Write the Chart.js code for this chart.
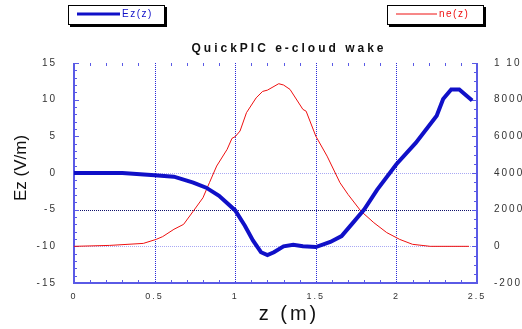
<!DOCTYPE html>
<html>
<head>
<meta charset="utf-8">
<script src="https://cdn.jsdelivr.net/npm/chart.js@4.4.0/dist/chart.umd.min.js"></script>
<style>
    html, body { margin: 0; padding: 0; background: #fff; }
    #wrap { position: relative; width: 522px; height: 329px; }
</style>
</head>
<body>
<div id="wrap"><canvas id="wake" width="522" height="329"></canvas></div>
<script>
// ─── DATA ────────────────────────────────────────────────────
const titleText  = 'QuickPIC e-cloud wake';
const legendEz   = 'Ez(z)';
const legendNe   = 'ne(z)';
const xTitle     = 'z (m)';
const yTitle     = 'Ez (V/m)';

// Ez(z) — thick blue, left axis
const ezZ      = [0, 0.3, 0.5, 0.62, 0.74, 0.82, 0.9, 1.0, 1.06, 1.11, 1.16, 1.2, 1.24, 1.3, 1.36, 1.42, 1.5, 1.59, 1.66, 1.73, 1.8, 1.88, 2.0, 2.12, 2.25, 2.29, 2.34, 2.39, 2.47];
const ezValues = [0, 0, -0.3, -0.5, -1.3, -2.0, -3.1, -5.1, -7.2, -9.2, -10.8, -11.2, -10.8, -10.0, -9.8, -10.0, -10.1, -9.4, -8.6, -6.8, -5.0, -2.3, 1.2, 4.1, 7.8, 10.1, 11.4, 11.4, 9.9];

// ne(z) — thin red, right axis
const neZ      = [0, 0.22, 0.43, 0.51, 0.55, 0.62, 0.68, 0.74, 0.8, 0.84, 0.885, 0.95, 0.98, 1.0, 1.03, 1.07, 1.13, 1.17, 1.2, 1.27, 1.3, 1.34, 1.42, 1.44, 1.5, 1.57, 1.65, 1.7, 1.78, 1.86, 1.94, 2.02, 2.1, 2.21, 2.45];
const neValues = [0, 50, 160, 380, 530, 930, 1200, 1920, 2650, 3470, 4380, 5290, 5890, 5980, 6290, 7290, 8100, 8450, 8520, 8870, 8800, 8560, 7470, 7370, 6010, 4920, 3470, 2830, 1920, 1290, 750, 380, 110, 0, 0];

const xTicks  = [0, 0.5, 1, 1.5, 2, 2.5];
const yTicks  = [15, 10, 5, 0, -5, -10, -15];
const y1Ticks = [10000, 8000, 6000, 4000, 2000, 0, -2000];

// ─── COLOURS ─────────────────────────────────────────────────
const BLUE   = '#1010c8';
const RED    = '#ee1010';
const AXIS   = '#5a5ae6';
const LABEL  = '#333';
const FONT   = '"Liberation Sans", Arial, sans-serif';

const toPoints = (xs, ys) => xs.map((x, i) => ({ x, y: ys[i] }));

// ─── FRAME PLUGIN (grid, axes, ticks, titles, legend) ───────
const framePlugin = {
    id: 'frame',
    beforeDraw(chart) {
        // the reference uses a wide, letter-spaced face for its tick labels
        chart.ctx.letterSpacing = '2px';
    },
    beforeDatasetsDraw(chart) {
        const { ctx, chartArea: { left, right, top, bottom } } = chart;
        const x  = chart.scales.x;
        const y  = chart.scales.y;
        const y1 = chart.scales.y1;
        ctx.save();

        // vertical dotted grid
        ctx.lineWidth = 1;
        ctx.setLineDash([1, 1]);
        ctx.strokeStyle = '#2a2ad8';
        [0.5, 1, 1.5, 2].forEach(v => {
            const px = Math.round(x.getPixelForValue(v)) + 0.5;
            ctx.beginPath(); ctx.moveTo(px, top); ctx.lineTo(px, bottom); ctx.stroke();
        });

        // horizontal dotted grid
        [[0, '#a8a8f4'], [-5, '#10106a'], [-10, '#a8a8f4']].forEach(([v, c]) => {
            const py = Math.round(y.getPixelForValue(v)) + 0.5;
            ctx.strokeStyle = c;
            ctx.beginPath(); ctx.moveTo(left, py); ctx.lineTo(right, py); ctx.stroke();
        });
        ctx.setLineDash([]);

        // axes
        ctx.strokeStyle = AXIS;
        ctx.lineWidth = 2;
        ctx.beginPath();
        ctx.moveTo(left, top); ctx.lineTo(left, bottom); ctx.lineTo(right, bottom); ctx.lineTo(right, top);
        ctx.stroke();

        // ticks
        ctx.lineWidth = 1;
        for (let i = 1; i < 25; i++) {
            if (i % 5 === 0) continue;
            const px = Math.round(x.getPixelForValue(i / 10)) + 0.5;
            ctx.beginPath(); ctx.moveTo(px, bottom); ctx.lineTo(px, bottom - 3); ctx.stroke();
            ctx.beginPath(); ctx.moveTo(px, top); ctx.lineTo(px, top + 3); ctx.stroke();
        }
        for (let v = -15; v <= 15; v++) {
            const py = Math.round(y.getPixelForValue(v)) + 0.5;
            const len = v % 5 === 0 ? 5 : 3;
            ctx.beginPath(); ctx.moveTo(left, py); ctx.lineTo(left + len, py); ctx.stroke();
        }
        for (let v = -2000; v <= 10000; v += 500) {
            const py = Math.round(y1.getPixelForValue(v)) + 0.5;
            const len = v % 2000 === 0 ? 5 : 3;
            ctx.beginPath(); ctx.moveTo(right, py); ctx.lineTo(right - len, py); ctx.stroke();
        }
        ctx.restore();
    },
    afterDraw(chart) {
        const { ctx } = chart;
        ctx.save();

        // title
        ctx.fillStyle = '#111';
        ctx.letterSpacing = '3px';
        ctx.font = 'bold 12px ' + FONT;
        ctx.textAlign = 'center';
        ctx.textBaseline = 'middle';
        ctx.fillText(titleText, 289, 49);

        // axis titles
        ctx.letterSpacing = '3px';
        ctx.font = '20px ' + FONT;
        ctx.fillText(xTitle, 289, 314);
        ctx.letterSpacing = '0px';
        ctx.font = '17px ' + FONT;
        ctx.save();
        ctx.translate(21, 168);
        ctx.rotate(-Math.PI / 2);
        ctx.fillText(yTitle, 0, 0);
        ctx.restore();

        // legend boxes
        const box = (bx, by, w, h, color, lw, lineLen, text) => {
            ctx.fillStyle = '#000';
            ctx.fillRect(bx + 2, by + 2, w, h);
            ctx.fillStyle = '#fff';
            ctx.fillRect(bx, by, w, h);
            ctx.strokeStyle = '#000';
            ctx.lineWidth = 1;
            ctx.strokeRect(bx + 0.5, by + 0.5, w - 1, h - 1);
            ctx.strokeStyle = color;
            ctx.lineWidth = lw;
            ctx.beginPath();
            ctx.moveTo(bx + 9, by + 9);
            ctx.lineTo(bx + 9 + lineLen, by + 9);
            ctx.stroke();
            ctx.fillStyle = color;
            ctx.letterSpacing = '1.5px';
            ctx.font = '10px ' + FONT;
            ctx.textAlign = 'left';
            ctx.fillText(text, bx + 11 + lineLen, by + 9);
        };
        box(68, 5, 97, 20, BLUE, 3, 43, legendEz);
        box(387, 5, 97, 20, RED, 1, 41, legendNe);

        ctx.restore();
    },
};

// ─── CHART ───────────────────────────────────────────────────
new Chart(document.getElementById('wake'), {
    type: 'line',
    data: {
        datasets: [
            {
                label: legendEz,
                data: toPoints(ezZ, ezValues),
                borderColor: BLUE,
                borderWidth: 4,
                pointRadius: 0,
                tension: 0,
                yAxisID: 'y',
            },
            {
                label: legendNe,
                data: toPoints(neZ, neValues),
                borderColor: RED,
                borderWidth: 1,
                pointRadius: 0,
                tension: 0,
                yAxisID: 'y1',
            },
        ],
    },
    options: {
        responsive: false,
        animation: false,
        layout: { padding: { top: 63, left: 0, right: 0, bottom: 0 } },
        plugins: {
            legend: { display: false },
            title: { display: false },
            tooltip: { enabled: false },
        },
        scales: {
            x: {
                type: 'linear',
                min: 0, max: 2.5,
                grid: { display: false },
                border: { display: false },
                afterBuildTicks: s => { s.ticks = xTicks.map(v => ({ value: v })); },
                ticks: {
                    color: LABEL,
                    font: { size: 9, family: FONT },
                    padding: 0,
                    maxRotation: 0,
                    callback: v => String(v),
                },
                afterFit: s => { s.height = 46; },
            },
            y: {
                position: 'left',
                min: -15, max: 15,
                grid: { display: false },
                border: { display: false },
                afterBuildTicks: s => { s.ticks = yTicks.map(v => ({ value: v })); },
                ticks: {
                    color: LABEL,
                    font: { size: 10, family: FONT },
                    padding: 9,
                },
                afterFit: s => { s.width = 74; },
            },
            y1: {
                position: 'right',
                min: -2000, max: 10000,
                grid: { display: false },
                border: { display: false },
                afterBuildTicks: s => { s.ticks = y1Ticks.map(v => ({ value: v })); },
                ticks: {
                    color: LABEL,
                    font: { size: 10, family: FONT },
                    padding: 9,
                    callback: v => v === 10000 ? '1 10\u2074' : String(v),
                },
                afterFit: s => { s.width = 45; },
            },
        },
    },
    plugins: [framePlugin],
});
</script>
</body>
</html>
